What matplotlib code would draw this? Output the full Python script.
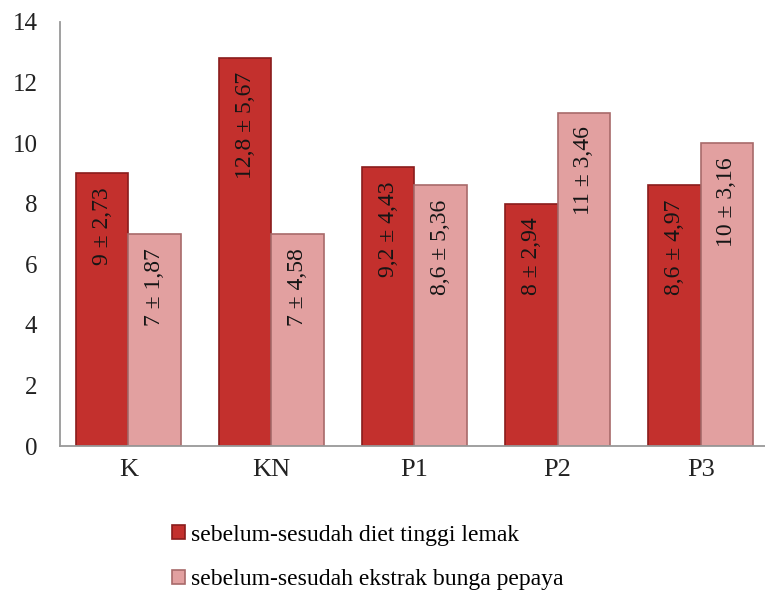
import matplotlib
matplotlib.use("Agg")
import matplotlib.pyplot as plt
import numpy as np

groups = ["K", "KN", "P1", "P2", "P3"]
diet = [9, 12.8, 9.2, 8, 8.6]
ekstrak = [7, 7, 8.6, 11, 10]
diet_labels = ["9 \u00b1 2,73", "12,8 \u00b1 5,67", "9,2 \u00b1 4,43", "8 \u00b1 2,94", "8,6 \u00b1 4,97"]
ekstrak_labels = ["7 \u00b1 1,87", "7 \u00b1 4,58", "8,6 \u00b1 5,36", "11 \u00b1 3,46", "10 \u00b1 3,16"]
series_names = ["sebelum-sesudah diet tinggi lemak", "sebelum-sesudah ekstrak bunga pepaya"]

plt.rcParams["font.family"] = ["Liberation Serif", "DejaVu Serif"]

fig = plt.figure(figsize=(7.65, 5.9), dpi=100)
ax = fig.add_axes([0.078, 0.244, 0.922, 0.719])

x = np.arange(len(groups))
w = 0.366
b1 = ax.bar(x - w / 2, diet, w, color="#C3302D", edgecolor="#8A1C1C", linewidth=1.2,
            label=series_names[0])
b2 = ax.bar(x + w / 2, ekstrak, w, color="#E2A0A0", edgecolor="#A86A6A", linewidth=1.2,
            label=series_names[1])

# value labels, rotated, hanging from the bar top
for bars, labels in ((b1, diet_labels), (b2, ekstrak_labels)):
    for bar, txt in zip(bars, labels):
        ax.annotate(txt, (bar.get_x() + bar.get_width() / 2, bar.get_height()),
                    xytext=(0, -10), textcoords="offset points",
                    ha="center", va="top", rotation=90, fontsize=17, color="#151515")

ax.set_ylim(0, 14)
ax.set_yticks(range(0, 15, 2))
ax.set_xlim(-0.48, 4.45)
ax.set_xticks(x)
ax.set_xticklabels(groups)
ax.tick_params(axis="both", length=0, colors="#222222")
ax.tick_params(axis="y", pad=16, labelsize=18)
ax.tick_params(axis="x", pad=9, labelsize=19)

for s in ("top", "right"):
    ax.spines[s].set_visible(False)
for s in ("left", "bottom"):
    ax.spines[s].set_color("#999999")
    ax.spines[s].set_linewidth(1.3)

fig.legend(handles=[b1, b2], loc="upper left", bbox_to_anchor=(0.212, 0.127),
           frameon=False, fontsize=17, handlelength=0.55, handleheight=0.55,
           handletextpad=0.25, labelspacing=1.0, borderaxespad=0)

fig.savefig("out.png", dpi=100)
